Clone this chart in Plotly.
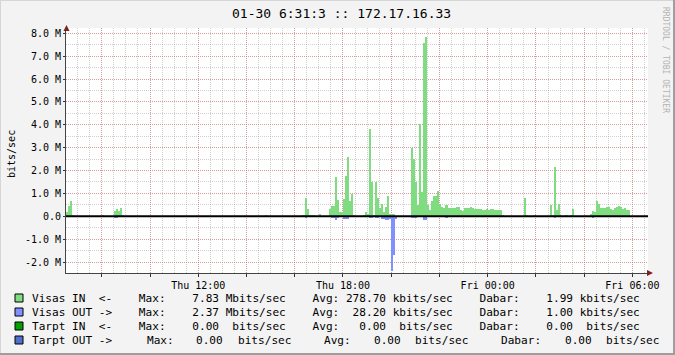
import plotly.graph_objects as go
from datetime import datetime, timedelta

# ---------------- data ----------------
title_text = "01-30 6:31:3 :: 172.17.16.33"
y_label = "bits/sec"
watermark = "RRDTOOL / TOBI OETIKER"

x_start = "2014-01-30 06:31:00"
x_end = "2014-01-31 06:38:45"

# Visas IN (Mbit/s), 5-minute samples (start times, HH:MM; before 06:30 = next day)
in_times = ["06:30", "06:35", "06:40", "06:45", "08:00", "08:30", "08:35", "08:40", "08:45", "08:50",
            "14:45", "16:15", "16:20", "16:25", "16:30", "16:35", "16:40", "16:45", "17:00",
            "17:25", "17:30", "17:35", "17:40", "17:45", "17:50", "17:55", "18:00", "18:05", "18:10",
            "18:15", "18:20", "18:25", "18:50", "18:55", "19:00", "19:05", "19:10", "19:15", "19:20",
            "19:25", "19:30", "19:35", "19:40", "19:45", "19:50", "19:55", "20:00", "20:05",
            "20:50", "20:55", "21:00", "21:05", "21:10", "21:15", "21:20", "21:25", "21:30", "21:35",
            "21:40", "21:45", "21:50", "21:55", "22:00", "22:05", "22:10", "22:15", "22:20", "22:25",
            "22:30", "22:35", "22:40", "22:45", "22:50", "22:55", "23:00", "23:05", "23:10", "23:15",
            "23:20", "23:25", "23:30", "23:35", "23:40", "23:45", "23:50", "23:55", "00:00", "00:05",
            "00:10", "00:15", "00:20", "00:25", "00:30", "00:35", "01:30", "01:35", "01:55",
            "02:35", "02:40", "02:45", "02:50", "02:55", "03:00", "03:10", "03:15", "03:25", "03:30",
            "04:15", "04:20", "04:25", "04:30", "04:35", "04:40", "04:45", "04:50", "04:55", "05:00",
            "05:05", "05:10", "05:15", "05:20", "05:25", "05:30", "05:35", "05:40", "05:45", "05:50"]
in_vals = [0.19, 0.45, 0.66, 0.05, 0.07, 0.23, 0.32, 0.23, 0.36, 0.07,
           0.05, 0.06, 0.06, 0.81, 0.32, 0.06, 0.06, 0.06, 0.11,
           0.32, 0.46, 0.46, 1.73, 0.71, 0.17, 0.17, 0.76, 1.76, 2.59,
           0.67, 0.99, 0.07, 0.05, 0.20, 0.10, 3.82, 1.50, 0.06, 1.49,
           0.80, 0.35, 0.54, 0.20, 0.42, 0.89, 0.10, 0.10, 0.10,
           3.00, 2.50, 1.51, 0.49, 4.03, 1.07, 7.59, 7.83, 0.49, 0.27,
           0.68, 0.90, 0.87, 1.12, 0.54, 0.40, 0.36, 0.49, 0.36, 0.36,
           0.36, 0.36, 0.40, 0.40, 0.27, 0.22, 0.36, 0.36, 0.36, 0.40,
           0.36, 0.32, 0.32, 0.32, 0.32, 0.27, 0.27, 0.32, 0.27, 0.32,
           0.32, 0.27, 0.27, 0.27, 0.27, 0.05, 0.80, 0.05, 0.05,
           0.50, 0.05, 2.14, 0.28, 0.55, 0.05, 0.05, 0.05, 0.05, 0.31,
           0.09, 0.22, 0.18, 0.66, 0.55, 0.36, 0.36, 0.36, 0.40, 0.40,
           0.31, 0.27, 0.36, 0.40, 0.45, 0.40, 0.31, 0.36, 0.27, 0.27]

# Visas OUT (Mbit/s), drawn below zero
out_times = ["08:30", "08:35", "16:25", "17:30", "17:35", "17:40", "17:45", "18:00", "18:05", "18:10",
             "18:20", "19:05", "19:10", "19:20", "19:25", "19:35", "19:40", "19:45", "19:50", "19:55",
             "20:00", "20:05", "20:10", "20:50", "20:55", "21:00", "21:20", "21:25", "22:15",
             "02:45", "04:20"]
out_vals = [0.06, 0.06, 0.04, 0.05, 0.05, 0.17, 0.05, 0.10, 0.10, 0.10,
            0.03, 0.05, 0.05, 0.05, 0.05, 0.10, 0.10, 0.15, 0.15, 0.10,
            2.37, 1.69, 0.10, 0.08, 0.08, 0.08, 0.16, 0.16, 0.05,
            0.05, 0.05]

x_tick_times = ["2014-01-30 08:00", "2014-01-30 10:00", "2014-01-30 12:00", "2014-01-30 14:00",
                "2014-01-30 16:00", "2014-01-30 18:00", "2014-01-30 20:00", "2014-01-30 22:00",
                "2014-01-31 00:00", "2014-01-31 02:00", "2014-01-31 04:00", "2014-01-31 06:00"]
x_tick_text = ["", "", "Thu 12:00", "", "", "Thu 18:00", "", "", "Fri 00:00", "", "", "Fri 06:00"]

y_tick_vals = [-2e6, -1e6, 0, 1e6, 2e6, 3e6, 4e6, 5e6, 6e6, 7e6, 8e6]
y_tick_text = ["-2.0 M", "-1.0 M", "0.0", "1.0 M", "2.0 M", "3.0 M", "4.0 M", "5.0 M",
               "6.0 M", "7.0 M", "8.0 M"]
y_range = [-2.479e6, 8.232e6]

legend_names = ["Visas IN  <-", "Visas OUT ->", "Tarpt IN  <-", "Tarpt OUT ->"]
legend_max = [7.83, 2.37, 0.00, 0.00]
legend_max_unit = ["Mbits/sec", "Mbits/sec", " bits/sec", " bits/sec"]
legend_avg = [278.70, 28.20, 0.00, 0.00]
legend_avg_unit = ["kbits/sec", "kbits/sec", " bits/sec", " bits/sec"]
legend_cur = [1.99, 1.00, 0.00, 0.00]
legend_cur_unit = ["kbits/sec", "kbits/sec", " bits/sec", " bits/sec"]
legend_colors = ["#80dc80", "#8090ff", "#00a000", "#4f6fcf"]

# ---------------- styling ----------------
W_FIG, H_FIG = 675, 355
L, R, T, B = 66, 27, 28, 82
PW = W_FIG - L - R
PH = H_FIG - T - B
MONO = "DejaVu Sans Mono"
GREEN = "#80dc80"
BLUE = "#8090ff"


def to_dt(hhmm):
    h, m = map(int, hhmm.split(":"))
    d = datetime(2014, 1, 30, h, m)
    if (h, m) < (6, 30):
        d += timedelta(days=1)
    return d


def px(x):
    return (x - L) / PW


def py(y):
    return (T + PH - y) / PH


fig = go.Figure()
fig.add_trace(go.Bar(x=[to_dt(t) for t in in_times], y=[v * 1e6 for v in in_vals],
                     width=300000, offset=0, marker=dict(color=GREEN, line=dict(width=0)),
                     hoverinfo="skip"))
fig.add_trace(go.Bar(x=[to_dt(t) for t in out_times], y=[-v * 1e6 for v in out_vals],
                     width=300000, offset=0, marker=dict(color=BLUE, line=dict(width=0)),
                     hoverinfo="skip"))

MAJ = "rgba(222,90,90,0.45)"
MIN = "rgba(150,150,150,0.45)"

fig.update_layout(
    width=W_FIG, height=H_FIG,
    margin=dict(l=L, r=R, t=T, b=B, pad=0),
    paper_bgcolor="#f3f3f3", plot_bgcolor="#ffffff",
    showlegend=False, barmode="overlay", bargap=0,
    font=dict(family=MONO, size=10, color="#000000"),
    xaxis=dict(type="date", range=[x_start, x_end], tickmode="array",
               tickvals=x_tick_times, ticktext=x_tick_text,
               showgrid=True, gridcolor=MAJ, griddash="1px,1px", gridwidth=1,
               minor=dict(dtick=1800000, tick0="2014-01-30 00:00", showgrid=True,
                          gridcolor=MIN, griddash="1px,1px", gridwidth=1, ticks=""),
               ticks="outside", ticklen=3, tickcolor="#333333",
               tickfont=dict(family=MONO, size=10, color="#000000"),
               showline=True, linecolor="#444444", linewidth=1, zeroline=False,
               fixedrange=True),
    yaxis=dict(range=y_range, tickmode="array", tickvals=y_tick_vals, ticktext=y_tick_text,
               showgrid=True, gridcolor=MAJ, griddash="1px,1px", gridwidth=1,
               minor=dict(dtick=500000, tick0=0, showgrid=True, gridcolor=MIN,
                          griddash="1px,1px", gridwidth=1, ticks=""),
               ticks="outside", ticklen=2, tickcolor="#333333",
               tickfont=dict(family=MONO, size=10, color="#000000"),
               showline=True, linecolor="#444444", linewidth=1, zeroline=False,
               fixedrange=True),
)

shapes = []
# zero rule
shapes.append(dict(type="line", xref="paper", yref="y", x0=0, x1=1, y0=0, y1=0,
                   line=dict(color="#000000", width=2), layer="above"))
# arrows
shapes.append(dict(type="path", xref="paper", yref="paper",
                   path=f"M {px(63.5)} {py(31)} L {px(69.5)} {py(31)} L {px(66.5)} {py(25)} Z",
                   fillcolor="#7f1f1f", line=dict(width=0)))
shapes.append(dict(type="path", xref="paper", yref="paper",
                   path=f"M {px(647)} {py(270)} L {px(647)} {py(276)} L {px(653)} {py(273)} Z",
                   fillcolor="#7f1f1f", line=dict(width=0)))
# frame shading
shapes.append(dict(type="line", xref="paper", yref="paper", x0=px(0), x1=px(675), y0=py(0.5), y1=py(0.5),
                   line=dict(color="#d6d6d6", width=1)))
shapes.append(dict(type="line", xref="paper", yref="paper", x0=px(0.5), x1=px(0.5), y0=py(0), y1=py(355),
                   line=dict(color="#d6d6d6", width=1)))
shapes.append(dict(type="line", xref="paper", yref="paper", x0=px(0), x1=px(675), y0=py(354), y1=py(354),
                   line=dict(color="#9e9e9e", width=2)))
shapes.append(dict(type="line", xref="paper", yref="paper", x0=px(674), x1=px(674), y0=py(0), y1=py(355),
                   line=dict(color="#9e9e9e", width=2)))

annotations = []
annotations.append(dict(text=title_text, xref="paper", yref="paper", x=px(341), y=py(14),
                        xanchor="center", yanchor="middle", showarrow=False,
                        font=dict(family=MONO, size=13, color="#000000")))
annotations.append(dict(text=y_label, xref="paper", yref="paper", x=px(11), y=py(154),
                        xanchor="center", yanchor="middle", showarrow=False, textangle=-90,
                        font=dict(family=MONO, size=10, color="#000000")))
annotations.append(dict(text=watermark, xref="paper", yref="paper", x=px(666), y=py(60),
                        xanchor="center", yanchor="middle", showarrow=False, textangle=90,
                        font=dict(family=MONO, size=8, color="#b4b4b4")))

NB = "\u00a0"
row_y = [298, 312, 326, 340]
for i in range(4):
    shapes.append(dict(type="rect", xref="paper", yref="paper",
                       x0=px(15), x1=px(23), y0=py(row_y[i] - 4), y1=py(row_y[i] + 4),
                       fillcolor=legend_colors[i], line=dict(color="#000000", width=1)))
    if i < 3:
        s = (f"{legend_names[i]}    Max:  {legend_max[i]:6.2f} {legend_max_unit[i]}    "
             f"Avg: {legend_avg[i]:6.2f} {legend_avg_unit[i]}    "
             f"Dabar:  {legend_cur[i]:6.2f} {legend_cur_unit[i]}")
        annotations.append(dict(text=s.replace(" ", NB), xref="paper", yref="paper",
                                x=px(30), y=py(row_y[i]), xanchor="left", yanchor="middle",
                                showarrow=False, font=dict(family=MONO, size=11.1, color="#000000")))
    else:
        pieces = [legend_names[i], "Max:", f"{legend_max[i]:.2f}", legend_max_unit[i].strip(),
                  "Avg:", f"{legend_avg[i]:.2f}", legend_avg_unit[i].strip(),
                  "Dabar:", f"{legend_cur[i]:.2f}", legend_cur_unit[i].strip()]
        xs = [30, 145, 193.5, 236, 322, 371.5, 413, 499, 562.5, 604]
        for p, xx in zip(pieces, xs):
            annotations.append(dict(text=p.replace(" ", NB), xref="paper", yref="paper",
                                    x=px(xx), y=py(row_y[i]), xanchor="left", yanchor="middle",
                                    showarrow=False,
                                    font=dict(family=MONO, size=11.1, color="#000000")))

fig.update_layout(shapes=shapes, annotations=annotations)
fig.write_html("out.html")
